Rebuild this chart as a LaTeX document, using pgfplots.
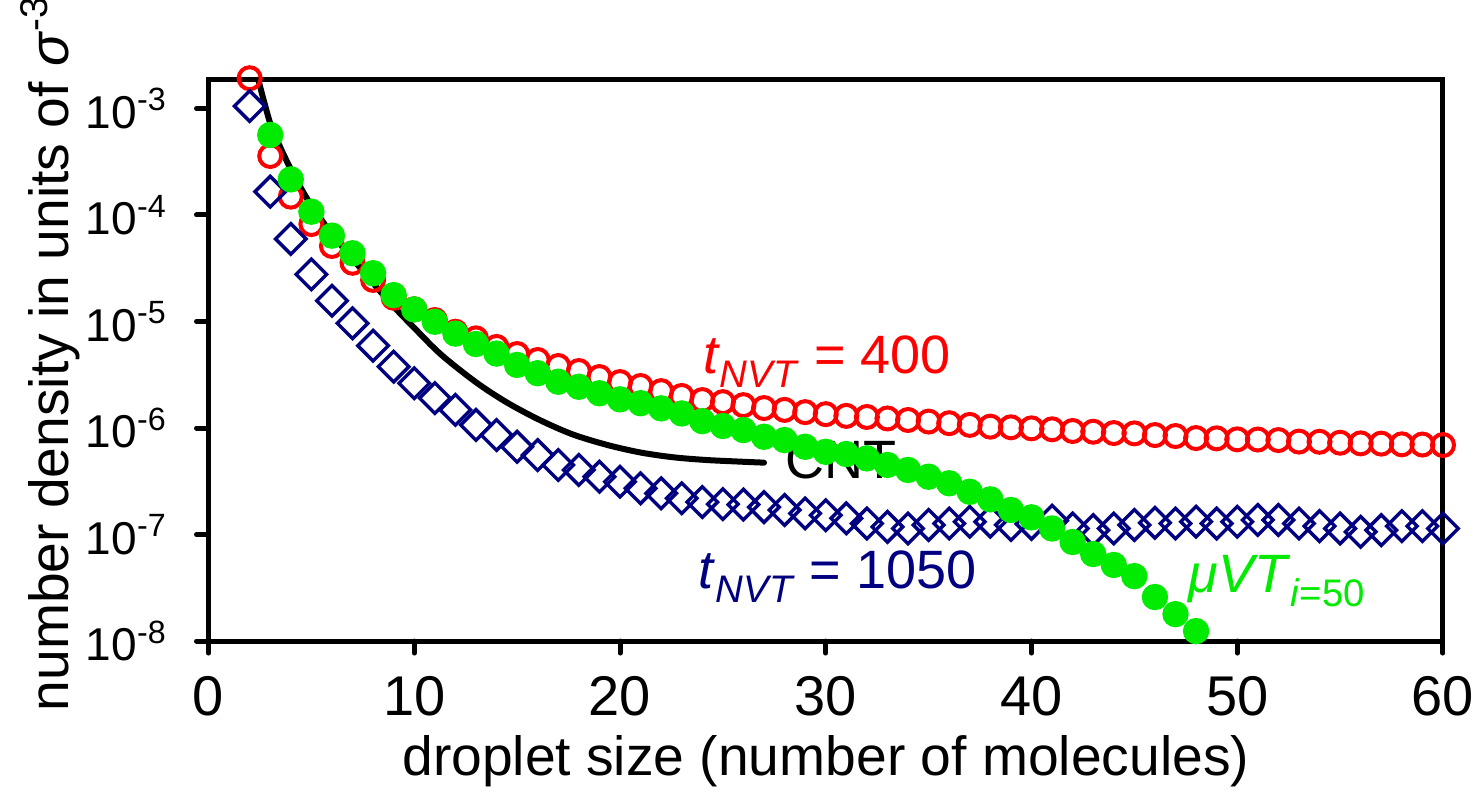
\documentclass[border=0pt]{standalone}
\usepackage{fontspec}
\setmainfont{Liberation Sans}
\usepackage{pgfplots}
\usepackage{pgfplotstable}
\pgfplotsset{compat=1.18}
\definecolor{cred}{RGB}{255,0,0}
\definecolor{cnavy}{RGB}{0,0,128}
\definecolor{cgreen}{RGB}{0,235,0}
\newcommand{\sub}[1]{\raisebox{-3.6pt}{\fontsize{9.6}{10}\selectfont #1}}

\pgfplotstableread{
x y
2 1.923e-3
3 3.58e-4
4 1.486e-4
5 8.22e-5
6 5.12e-5
7 3.56e-5
8 2.455e-5
9 1.671e-5
10 1.303e-5
11 1.033e-5
12 8.02e-6
13 6.95e-6
14 5.77e-6
15 4.95e-6
16 4.35e-6
17 3.82e-6
18 3.43e-6
19 3.01e-6
20 2.70e-6
21 2.48e-6
22 2.22e-6
23 2.00e-6
24 1.83e-6
25 1.75e-6
26 1.64e-6
27 1.54e-6
28 1.48e-6
29 1.41e-6
30 1.35e-6
31 1.30e-6
32 1.27e-6
33 1.23e-6
34 1.19e-6
35 1.15e-6
36 1.11e-6
37 1.07e-6
38 1.03e-6
39 1.016e-6
40 9.93e-7
41 9.73e-7
42 9.38e-7
43 9.23e-7
44 8.97e-7
45 8.91e-7
46 8.59e-7
47 8.41e-7
48 8.05e-7
49 8.00e-7
50 7.83e-7
51 7.80e-7
52 7.71e-7
53 7.46e-7
54 7.43e-7
55 7.28e-7
56 7.18e-7
57 7.14e-7
58 7.03e-7
59 7.00e-7
60 6.92e-7
}\redtab

\pgfplotstableread{
x y
2 1.054e-3
3 1.656e-4
4 5.96e-5
5 2.77e-5
6 1.567e-5
7 9.62e-6
8 5.93e-6
9 3.77e-6
10 2.63e-6
11 1.91e-6
12 1.48e-6
13 1.07e-6
14 8.59e-7
15 6.67e-7
16 5.57e-7
17 4.50e-7
18 4.04e-7
19 3.49e-7
20 3.13e-7
21 2.72e-7
22 2.44e-7
23 2.19e-7
24 2.02e-7
25 1.93e-7
26 1.91e-7
27 1.81e-7
28 1.70e-7
29 1.58e-7
30 1.52e-7
31 1.42e-7
32 1.27e-7
33 1.18e-7
34 1.14e-7
35 1.23e-7
36 1.27e-7
37 1.32e-7
38 1.32e-7
39 1.23e-7
40 1.26e-7
41 1.35e-7
42 1.14e-7
43 1.10e-7
44 1.14e-7
45 1.23e-7
46 1.29e-7
47 1.27e-7
48 1.32e-7
49 1.27e-7
50 1.32e-7
51 1.37e-7
52 1.37e-7
53 1.27e-7
54 1.20e-7
55 1.14e-7
56 1.06e-7
57 1.10e-7
58 1.20e-7
59 1.20e-7
60 1.14e-7
}\bluetab

\pgfplotstableread{
x y
3 5.64e-4
4 2.16e-4
5 1.074e-4
6 6.40e-5
7 4.37e-5
8 2.84e-5
9 1.77e-5
10 1.30e-5
11 9.95e-6
12 7.7e-6
13 6.15e-6
14 5.0e-6
15 3.91e-6
16 3.27e-6
17 2.72e-6
18 2.44e-6
19 2.12e-6
20 1.86e-6
21 1.71e-6
22 1.53e-6
23 1.37e-6
24 1.16e-6
25 1.045e-6
26 9.57e-7
27 8.28e-7
28 7.71e-7
29 6.67e-7
30 5.98e-7
31 5.70e-7
32 5.19e-7
33 4.50e-7
34 4.04e-7
35 3.49e-7
36 3.03e-7
37 2.52e-7
38 2.14e-7
39 1.70e-7
40 1.45e-7
41 1.14e-7
42 8.51e-8
43 6.56e-8
44 5.18e-8
45 4.07e-8
46 2.59e-8
47 1.79e-8
48 1.24e-8
}\greentab

\pgfplotstableread{
x y
2.42 1.862e-3
3.0 7.24e-4
3.5 4.27e-4
4.0 2.69e-4
4.5 1.778e-4
5.0 1.230e-4
6.0 6.61e-5
7.0 3.89e-5
8.0 2.29e-5
9.0 1.380e-5
10.0 8.71e-6
11.3 4.90e-6
13.0 2.69e-6
14.5 1.738e-6
16.1 1.189e-6
17.7 8.71e-7
19.4 6.92e-7
21.0 5.89e-7
22.6 5.31e-7
24.2 5.01e-7
25.8 4.84e-7
27.0 4.73e-7
}\cnttab

\begin{document}
\begin{tikzpicture}
\useasboundingbox (-52.125pt,-39pt) rectangle (316.85pt,160.25pt);
\begin{axis}[
  at={(0,0)}, anchor=south west,
  scale only axis, width=308.6pt, height=140.5pt,
  xmin=0, xmax=60, ymin=1e-8, ymax=1.89e-3,
  ymode=log, log basis y=10,
  axis line style={line width=1.25pt},
  tick style={line width=1.25pt, black, line cap=round},
  major tick length=3pt,
  tick align=outside, tick pos=left,
  xtick={0,10,20,30,40,50,60},
  xticklabels={0,10,20,30,40,50,60},
  ytick={1e-8,1e-7,1e-6,1e-5,1e-4,1e-3},
  yticklabels={10\textsuperscript{-8},10\textsuperscript{-7},10\textsuperscript{-6},10\textsuperscript{-5},10\textsuperscript{-4},10\textsuperscript{-3}},
  yminorticks=false, xminorticks=false,
  xticklabel style={font=\fontsize{14}{16}\selectfont, anchor=base, yshift=-15.5pt},
  yticklabel style={font=\fontsize{11.5}{13}\selectfont, anchor=east, inner sep=0pt, xshift=-7pt},
  xlabel={droplet size (number of molecules)},
  ylabel={number density in units of \textit{σ}\textsuperscript{-3}},
  xlabel style={font=\fontsize{13.8}{16}\selectfont, at={(axis description cs:0.5,0)}, anchor=base, yshift=-33.5pt},
  ylabel style={font=\fontsize{13.8}{16}\selectfont, at={(axis description cs:-0.1137,0.512)}, anchor=base},
  clip=false,
]
\addplot[only marks, mark=o, mark size=2.75pt, cred, mark options={line width=1pt}] table[x=x,y=y] {\redtab};
\addplot[only marks, mark=square, mark size=2.7pt, cnavy, mark options={line width=0.85pt, rotate=45}] table[x=x,y=y] {\bluetab};
\addplot[black, line width=1.5pt, smooth, line cap=round, no marks] table[x=x,y=y] {\cnttab};
\addplot[only marks, mark=*, mark size=3.1pt, cgreen, mark options={draw=cgreen, fill=cgreen}] table[x=x,y=y] {\greentab};
\node[cred, anchor=base west, inner sep=0pt, font=\fontsize{13.5}{16}\selectfont] at (axis cs:24.0,3.28e-6) {\textit{t}\sub{\textit{NVT}} = 400};
\node[black, anchor=base west, inner sep=0pt, font=\fontsize{13.5}{16}\selectfont] at (axis cs:28.0,3.37e-7) {CNT};
\node[cnavy, anchor=base west, inner sep=0pt, font=\fontsize{13.5}{16}\selectfont] at (axis cs:23.8,3.13e-8) {\textit{t}\sub{\textit{NVT}} = 1050};
\node[cgreen, anchor=base west, inner sep=0pt, font=\fontsize{13.5}{16}\selectfont] at (axis cs:47.6,2.88e-8) {\textit{μVT}\sub{\textit{i}=50}};
\end{axis}
\end{tikzpicture}
\end{document}
